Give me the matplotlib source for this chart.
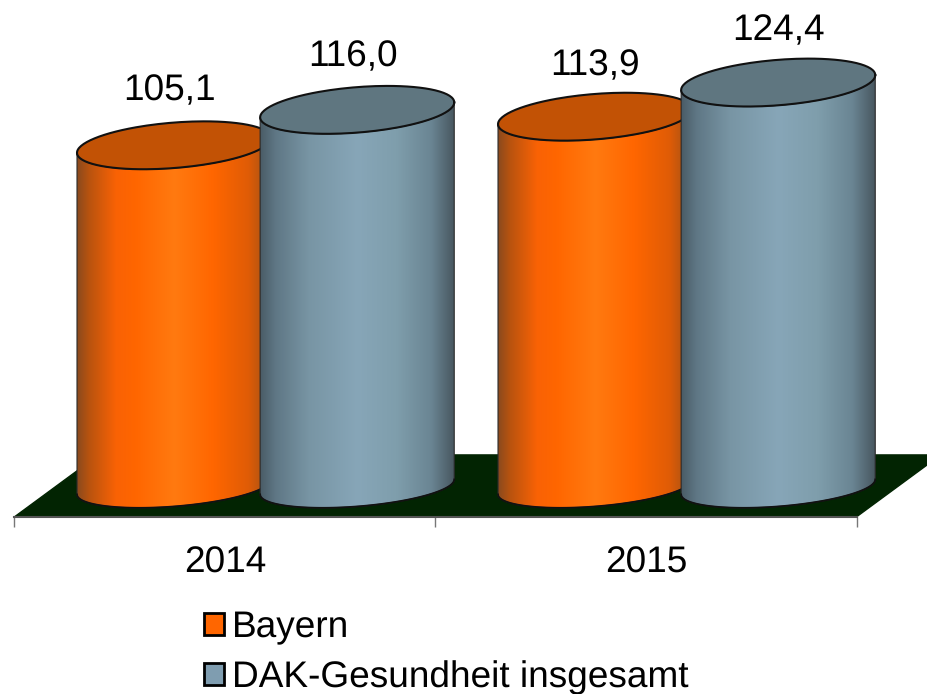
import numpy as np
import matplotlib
matplotlib.use("Agg")
import matplotlib.pyplot as plt
from matplotlib.colors import LinearSegmentedColormap
from matplotlib.patches import Patch, Polygon

plt.rcParams['font.family'] = ['Liberation Sans', 'DejaVu Sans']
plt.rcParams['text.hinting'] = 'no_hinting'
plt.rcParams['text.hinting_factor'] = 1

# =============================================================================
# DATA
# =============================================================================
years = ['2014', '2015']
series_names = ['Bayern', 'DAK-Gesundheit insgesamt']
bayern = [105.1, 113.9]
dak = [116.0, 124.4]
labels_bayern = ['105,1', '113,9']
labels_dak = ['116,0', '124,4']

# =============================================================================
# STYLE
# =============================================================================
orange_stops = [(0, '#8a4a1e'), (0.06, '#b8530f'), (0.2, '#f96205'), (0.3, '#ff6600'),
                (0.5, '#ff7a10'), (0.7, '#ff6600'), (0.88, '#e05c06'), (1, '#9a5018')]
blue_stops = [(0, '#4a5c66'), (0.08, '#5f7785'), (0.25, '#7895a4'), (0.5, '#87a6b8'),
              (0.7, '#7f9eac'), (0.88, '#6a8593'), (1, '#47565f')]
orange_cap = '#c25205'
blue_cap = '#5f7680'
orange_flat = '#ff6600'
blue_flat = '#7f9db0'
floor_color = '#022402'

BAR_W = 0.461        # cylinder width, category units
OFF_A = -0.121       # offset of first series from category centre
OFF_B = 0.314        # offset of second series
RY_TOP = 7.0         # cap semi minor axis, value units
RY_BOTTOM = 6.0      # bottom curve is a bit flatter
TILT = 2.3           # cap tilt, value units
FLOOR_FRONT = -9.2
FLOOR_BACK = 9.85
FLOOR_DX = 0.2
FS = 26.4

# label nudges in points, one per category
nudge_bayern = [(-3, 27), (0, 24.5)]
nudge_dak = [(-3, 26), (0, 25)]

fig = plt.figure(figsize=(9.28, 6.94), dpi=100)
ax = fig.add_axes([0, 0, 1, 1])
ax.set_xlim(-0.5344, 1.6698)
ax.set_ylim(-63.7, 149.8)
ax.patch.set_visible(False)


def cap_curve(cx, val, t, ry):
    x = cx + BAR_W / 2 * np.cos(t)
    y = val + TILT * np.cos(t) + ry * np.sin(t)
    return x, y


def cylinder(cx, val, stops, cap_color, z):
    t_low = np.linspace(np.pi, 2 * np.pi, 80)
    bx, by = cap_curve(cx, 0, t_low, RY_BOTTOM)
    tx, ty = cap_curve(cx, val, t_low[::-1], RY_TOP)
    side = np.column_stack([np.r_[bx, tx], np.r_[by, ty]])

    # body: horizontal gradient clipped to the silhouette
    cmap = LinearSegmentedColormap.from_list('body', stops)
    grad = np.linspace(0, 1, 256).reshape(1, -1)
    im = ax.imshow(grad, cmap=cmap, aspect='auto', zorder=z, interpolation='bilinear',
                   extent=[cx - BAR_W / 2, cx + BAR_W / 2, by.min(), ty.max()])
    clip = Polygon(side, closed=True, transform=ax.transData, fc='none', ec='none')
    ax.add_patch(clip)
    im.set_clip_path(clip)

    ax.add_patch(Polygon(side, closed=True, fc='none', ec='#2a2a2a', lw=0.8, zorder=z + 0.1))
    ax.plot(bx, by, color='#111111', lw=1.3, zorder=z + 0.2)

    t_all = np.linspace(0, 2 * np.pi, 160)
    ex, ey = cap_curve(cx, val, t_all, RY_TOP)
    ax.fill(ex, ey, color=cap_color, zorder=z + 0.3, lw=0)
    ax.plot(ex, ey, color='#111111', lw=1.5, zorder=z + 0.4)


# Floor of the 3D plot
ax.add_patch(Polygon([[-0.5, FLOOR_FRONT], [1.5, FLOOR_FRONT],
                      [1.5 + FLOOR_DX, FLOOR_BACK], [-0.5 + FLOOR_DX, FLOOR_BACK]],
                     closed=True, fc=floor_color, ec=floor_color, lw=1, zorder=1))

for i in range(len(years)):
    cylinder(i + OFF_A, bayern[i], orange_stops, orange_cap, 2 + 2 * i)
    cylinder(i + OFF_B, dak[i], blue_stops, blue_cap, 3 + 2 * i)
    ax.annotate(labels_bayern[i], (i + OFF_A, bayern[i]), xytext=nudge_bayern[i],
                textcoords='offset points', ha='center', va='bottom', fontsize=FS, zorder=20)
    ax.annotate(labels_dak[i], (i + OFF_B, dak[i]), xytext=nudge_dak[i],
                textcoords='offset points', ha='center', va='bottom', fontsize=FS, zorder=20)

# Axis line with ticks at category borders, labels at category centres
for name in ['top', 'left', 'right']:
    ax.spines[name].set_visible(False)
ax.spines['bottom'].set_position(('data', FLOOR_FRONT))
ax.spines['bottom'].set_bounds(-0.5, 1.5)
ax.spines['bottom'].set_color('#555555')
ax.spines['bottom'].set_linewidth(1.5)
ax.spines['bottom'].set_zorder(15)
ax.set_yticks([])
ax.set_xticks([-0.5, 0.5, 1.5])
ax.set_xticklabels([])
ax.tick_params(axis='x', which='major', length=7.5, width=1, color='#777777')
ax.set_xticks([0, 1], minor=True)
ax.set_xticklabels(years, minor=True, fontsize=26.8)
ax.tick_params(axis='x', which='minor', length=0, pad=21)

handles = [Patch(fc=orange_flat, ec='black', lw=2), Patch(fc=blue_flat, ec='black', lw=2)]
fig.legend(handles, series_names, loc='upper left', bbox_to_anchor=(204 / 928, 1 - 610.5 / 694),
           frameon=False, fontsize=26.8, borderpad=0, borderaxespad=0, handlelength=0.55,
           handleheight=0.55, handletextpad=0.2, labelspacing=0.41)

fig.savefig('out.png', dpi=100)
